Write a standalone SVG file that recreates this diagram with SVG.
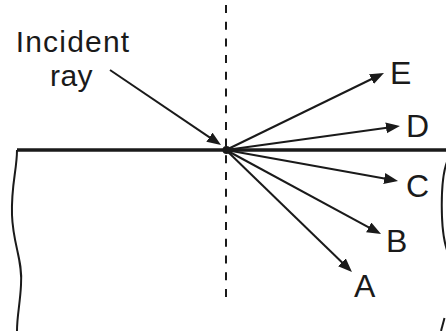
<svg xmlns="http://www.w3.org/2000/svg" width="446" height="331" viewBox="0 0 446 331">
<style>
.ray{stroke:#1a1a1a;stroke-width:2;fill:none;marker-end:url(#ah)}
.lbl{font-family:"Liberation Sans",Arial,sans-serif;fill:#1a1a1a}
.edge{stroke:#1a1a1a;stroke-width:2;fill:none}
</style>
<defs>
<marker id="ah" markerUnits="userSpaceOnUse" markerWidth="16" markerHeight="12" refX="10" refY="5.5" orient="auto">
<path d="M0,0 L14,5.5 L0,11 z" fill="#1a1a1a"/>
</marker>
</defs>
<rect width="446" height="331" fill="#fff"/>
<g id="block">
<path class="edge" d="M17,150 C17,170 11,185 12,215 C13,245 23,260 21,285 C20,305 17,315 17,331"/>
<path class="edge" d="M447,162 C440,180 440,230 447,250"/>
<path class="edge" d="M441,331 L444.5,318"/>
<line x1="17" y1="150" x2="446" y2="150" stroke="#1a1a1a" stroke-width="3.5"/>
</g>
<g id="normal">
<line x1="226" y1="5" x2="226" y2="298" stroke="#1a1a1a" stroke-width="2" stroke-dasharray="8 8.7"/>
</g>
<g id="connectors">
<line class="ray" x1="110" y1="70" x2="217.7" y2="142.8"/>
<line class="ray" x1="226" y1="150" x2="380.4" y2="74.75"/>
<line class="ray" x1="226" y1="150" x2="396" y2="126.5"/>
<line class="ray" x1="226" y1="150" x2="394.1" y2="180.3"/>
<line class="ray" x1="226" y1="150" x2="377.5" y2="232.1"/>
<line class="ray" x1="226" y1="150" x2="349.1" y2="269.2"/>
</g>
<g id="point"><circle cx="226.5" cy="150" r="4" fill="#1a1a1a"/></g>
<g id="incident-label">
<text class="lbl" x="73" y="52" font-size="30" letter-spacing="1.2" text-anchor="middle">Incident</text>
<text class="lbl" x="71.5" y="86" font-size="30" letter-spacing="0.5" text-anchor="middle">ray</text>
</g>
<g id="E"><text class="lbl" x="390" y="84" font-size="32">E</text></g>
<g id="D"><text class="lbl" x="406" y="137" font-size="32">D</text></g>
<g id="C"><text class="lbl" x="406" y="197" font-size="32">C</text></g>
<g id="B"><text class="lbl" x="386" y="252" font-size="32">B</text></g>
<g id="A"><text class="lbl" x="354" y="297" font-size="32">A</text></g>
</svg>
